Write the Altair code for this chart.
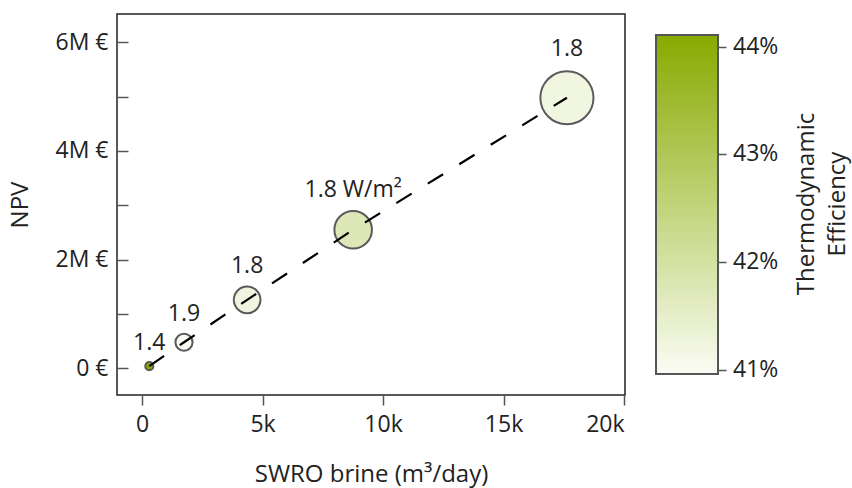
import altair as alt
import pandas as pd

# ---- data ----
brine = [300, 1740, 4360, 8760, 17630]            # SWRO brine, m3/day
npv = [40000, 480000, 1260000, 2550000, 4980000]   # NPV, EUR
efficiency = [44.11, 40.96, 41.25, 41.75, 41.2]    # thermodynamic efficiency, %
labels = ["1.4", "1.9", "1.8", "1.8 W/m²", "1.8"]  # power density labels

x_ticks = [0, 5000, 10000, 15000, 20000]
y_ticks = [0, 1000000, 2000000, 3000000, 4000000, 5000000, 6000000]
eff_ticks = [41, 42, 43, 44]
legend_title = ["Thermodynamic", "Efficiency"]

df = pd.DataFrame({"brine": brine, "npv": npv, "eff": efficiency, "label": labels})

FONT = "Open Sans"
TXT = "#222222"
TICK = "#555555"
EFF_DOMAIN = [40.96, 44.11]

x_enc = alt.X(
    "brine:Q",
    scale=alt.Scale(domain=[-1040, 20040], nice=False, zero=False),
    axis=alt.Axis(
        values=x_ticks,
        labelExpr="datum.value == 0 ? '0' : (datum.value / 1000) + 'k'",
        title="SWRO brine (m³/day)",
        domain=False, grid=False,
        tickSize=10, tickColor=TICK, tickWidth=1.5,
        labelPadding=8, titlePadding=26,
        labelFont=FONT, labelFontSize=23, labelColor=TXT,
        titleFont=FONT, titleFontSize=24, titleColor=TXT, titleFontWeight="normal",
    ),
)
y_enc = alt.Y(
    "npv:Q",
    scale=alt.Scale(domain=[-491000, 6521000], nice=False, zero=False),
    axis=alt.Axis(
        values=y_ticks,
        labelExpr="datum.value == 0 ? '0 €' : (datum.value % 2000000 == 0 ? (datum.value / 1000000) + 'M €' : '')",
        title="NPV",
        domain=False, grid=False, offset=-11,
        tickSize=11, tickColor=TICK, tickWidth=1.5,
        labelPadding=9, titlePadding=23,
        labelFont=FONT, labelFontSize=23, labelColor=TXT,
        titleFont=FONT, titleFontSize=24, titleColor=TXT, titleFontWeight="normal",
    ),
)

color_enc = alt.Color(
    "eff:Q",
    scale=alt.Scale(domain=EFF_DOMAIN, range=["#fafcf4", "#88aa00"], interpolate="rgb"),
    legend=alt.Legend(
        orient="none", legendX=539, legendY=21, direction="vertical",
        gradientLength=339, gradientThickness=62,
        gradientStrokeColor=TICK, gradientStrokeWidth=2,
        values=eff_ticks, labelExpr="datum.value + '%'",
        labelFont=FONT, labelFontSize=23, labelColor=TXT, labelOffset=15,
        title=None, padding=0,
    ),
)

size_enc = alt.Size("brine:Q", scale=alt.Scale(domain=[0, 20000], range=[18, 3198]), legend=None)

base = alt.Chart(df)

points = base.mark_circle(opacity=1, stroke="#5a5a5a", strokeWidth=2).encode(
    x=x_enc, y=y_enc, color=color_enc, size=size_enc
)

line = base.mark_line(color="black", strokeDash=[18, 19], strokeWidth=2.2).encode(
    x=x_enc, y=y_enc, order="brine:Q"
)

# labels sit just above each bubble: polar offset straight up by bubble radius + gap
text = base.mark_text(
    font=FONT, fontSize=23, color=TXT, align="center", baseline="alphabetic", theta=0
).encode(
    x=x_enc, y=y_enc, text="label:N",
    radius=alt.Radius("brine:Q", scale=alt.Scale(type="sqrt", domain=[0, 20000], range=[12, 44])),
)

main = alt.layer(points, line, text)

# tick marks along the colour bar: an unlabeled right axis on the efficiency values
# (scale stretched so that 40.96..44.11 spans the bar, which is inset 21 px top and bottom)
px_per_unit = 339 / (EFF_DOMAIN[1] - EFF_DOMAIN[0])
eff_axis_domain = [EFF_DOMAIN[0] - 21 / px_per_unit, EFF_DOMAIN[1] + 21 / px_per_unit]
cbar_ticks = base.mark_circle(opacity=0).encode(
    x=x_enc,
    y=alt.Y(
        "eff:Q",
        scale=alt.Scale(domain=eff_axis_domain, nice=False, zero=False),
        axis=alt.Axis(
            orient="right", offset=93, values=eff_ticks, labels=False, title=None,
            domain=False, grid=False, tickSize=8, tickColor=TICK, tickWidth=1.5,
        ),
    ),
)

# colour-bar title, rotated to read upwards on the right of the bar
cbar_title = alt.Chart(pd.DataFrame({"t": [0]})).mark_text(
    text=legend_title, font=FONT, fontSize=24, color=TXT, angle=270,
    align="center", baseline="top", lineHeight=31,
).encode(x=alt.value(678), y=alt.value(190))

chart = alt.layer(main, cbar_ticks).resolve_scale(y="independent")
chart = alt.layer(chart, cbar_title).properties(
    width=508, height=381,
    padding={"left": 117, "top": 14, "right": 227, "bottom": 93},
    autosize=alt.AutoSizeParams(type="none"),
).configure_view(stroke="#222222", strokeWidth=1.5)

chart.save("out.html", embed_options={"renderer": "svg", "actions": False})
